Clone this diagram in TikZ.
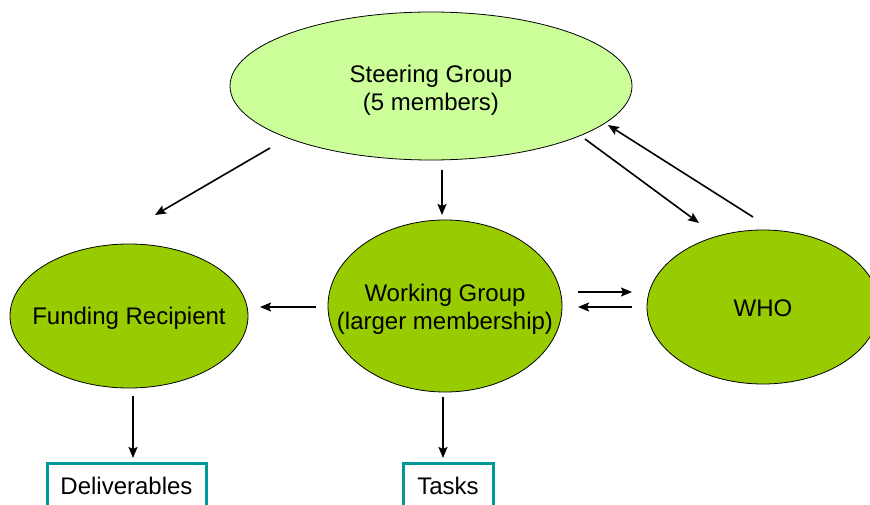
\documentclass[tikz,border=0pt]{standalone}
\usepackage{fontspec}
\setmainfont{Liberation Sans}
\usetikzlibrary{shapes.geometric,arrows.meta}
\definecolor{paleGreen}{HTML}{CCFF99}
\definecolor{leafGreen}{HTML}{99CC00}
\definecolor{tealEdge}{HTML}{009999}
\begin{document}
\begin{tikzpicture}[x=1pt,y=-1pt,
  font=\fontsize{24}{28}\selectfont,
  bubble/.style={ellipse,draw=black,line width=0.8pt,inner sep=0pt},
  outbox/.style={rectangle,draw=tealEdge,line width=3pt,inner sep=0pt},
  arr/.style={line width=1.6pt,-{Stealth[length=11pt,width=9pt,inset=2pt]}},
  lbl/.style={align=center,font=\fontsize{24}{28}\selectfont}]
\clip (0,0) rectangle (870,505);

% groups
\node[bubble,fill=paleGreen,minimum width=402pt,minimum height=148pt,
  label={[lbl,yshift=-4pt]center:Steering Group\\(5 members)}] (sg) at (431,86) {};
\node[bubble,fill=leafGreen,minimum width=238pt,minimum height=144pt,
  label={[lbl,yshift=-2pt]center:Funding Recipient}] (fr) at (129,316) {};
\node[bubble,fill=leafGreen,minimum width=234pt,minimum height=172pt,
  label={[lbl,yshift=-3pt]center:Working Group\\(larger membership)}] (wg) at (445,306) {};
\node[bubble,fill=leafGreen,minimum width=232pt,minimum height=154pt,
  label={[lbl,yshift=-1pt]center:WHO}] (who) at (763,307) {};

% outputs
\node[outbox,minimum width=159pt,minimum height=46pt] (del) at (126.5,486) {Deliverables};
\node[outbox,minimum width=90pt,minimum height=46pt] (tasks) at (448,486) {Tasks};

% connectors
\draw[arr] ([shift={(-161,62)}]sg.center) -- ([shift={(26,-101)}]fr.center);
\draw[arr] ([shift={(11,84)}]sg.center) -- ([shift={(-3,-91)}]wg.center);
\draw[arr] ([shift={(154,53)}]sg.center) -- ([shift={(-64,-84)}]who.center);
\draw[arr] ([shift={(-10,-90)}]who.center) -- ([shift={(177,39)}]sg.center);
\draw[arr] ([shift={(-129,1)}]wg.center) -- ([shift={(131,-9)}]fr.center);
\draw[arr] ([shift={(133,-14)}]wg.center) -- ([shift={(-131,-15)}]who.center);
\draw[arr] ([shift={(-131,0)}]who.center) -- ([shift={(133,1)}]wg.center);
\draw[arr] ([shift={(4,80)}]fr.center) -- ([shift={(6.5,-28)}]del.center);
\draw[arr] ([shift={(-2,91)}]wg.center) -- ([shift={(-5,-28)}]tasks.center);
\end{tikzpicture}
\end{document}
